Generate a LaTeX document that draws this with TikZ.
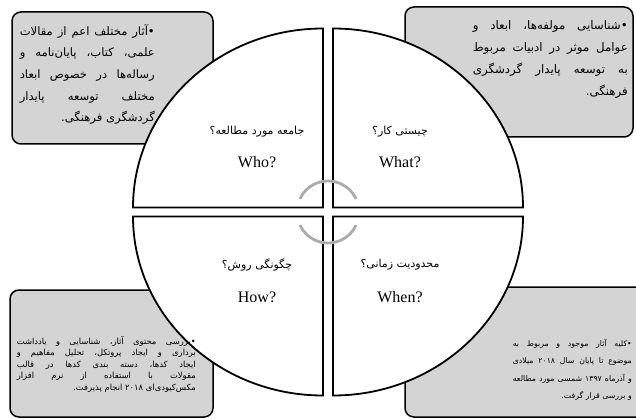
\documentclass[tikz,border=0pt]{standalone}
\usepackage{fontspec}
\setmainfont{Liberation Serif}
\newfontfamily\fa[Script=Arabic]{DejaVu Sans}
\TeXXeTstate=1
\definecolor{boxgray}{RGB}{212,212,212}
\definecolor{ringgray}{RGB}{172,172,172}
\begin{document}
\begin{tikzpicture}[x=1pt,y=-1pt,
  infobox/.style={fill=boxgray,draw=black,line width=1.5pt,rounded corners=9pt},
  quad/.style={fill=white,draw=black,line width=1.8pt},
  ring/.style={draw=ringgray,line width=2.8pt},
  boxtxt/.style={inner sep=0pt,align=right},
  qfa/.style={inner sep=0pt,font=\fa\fontsize{11}{13}\selectfont},
  qen/.style={inner sep=0pt,font=\fontsize{16}{18}\selectfont}]
\useasboundingbox (0,0) rectangle (636,419);
\fill[white] (0,0) rectangle (636,419);
% info boxes
\draw[infobox] (12,12) rectangle (213,144);
\draw[infobox] (405,7) rectangle (633,137);
\draw[infobox] (10,290) rectangle (213,417);
\draw[infobox] (405,287) rectangle (648,417);
% quadrants
\draw[quad] (323,207.5) -- (133,207.5) arc[start angle=180,end angle=270,x radius=190,y radius=179] -- cycle;
\draw[quad] (333,207.5) -- (523,207.5) arc[start angle=0,end angle=-90,x radius=190,y radius=179] -- cycle;
\draw[quad] (323,216.5) -- (133,216.5) arc[start angle=180,end angle=90,x radius=190,y radius=179] -- cycle;
\draw[quad] (333,216.5) -- (523,216.5) arc[start angle=0,end angle=90,x radius=190,y radius=179] -- cycle;
% central rings
\coordinate (c) at (328,212);
\draw[ring] (c) ++(205:31) arc[start angle=205,end angle=335,radius=31];
\draw[ring] (c) ++(25:31) arc[start angle=25,end angle=155,radius=31];
% quadrant labels
\node[qfa] (whofa) at (257,132) {\beginR جامعه مورد مطالعه؟\endR};
\node[qen] (who) at (257,162) {Who?};
\node[qfa] (whatfa) at (400,132) {\beginR چیستی کار؟\endR};
\node[qen] (what) at (400,162) {What?};
\node[qfa] (howfa) at (257,265) {\beginR چگونگی روش؟\endR};
\node[qen] (how) at (257,297) {How?};
\node[qfa] (whenfa) at (400,265) {\beginR محدودیت زمانی؟\endR};
\node[qen] (when) at (400,297) {When?};
% box texts
\node[boxtxt,anchor=north east,font=\fa\fontsize{11.6}{21.7}\selectfont] (tltxt) at (155,24) {%
\makebox[135pt][s]{\beginR •آثار مختلف اعم از مقالات\endR}\\
\makebox[135pt][s]{\beginR علمی، کتاب، پایان‌نامه و\endR}\\
\makebox[135pt][s]{\beginR رساله‌ها در خصوص ابعاد\endR}\\
\makebox[135pt][s]{\beginR مختلف توسعه پایدار\endR}\\
\beginR گردشگری فرهنگی.\endR};
\node[boxtxt,anchor=north east,font=\fa\fontsize{11.8}{22}\selectfont] (trtxt) at (628,20) {%
\makebox[155pt][s]{\beginR •شناسایی مولفه‌ها، ابعاد و\endR}\\
\makebox[155pt][s]{\beginR عوامل موثر در ادبیات مربوط\endR}\\
\makebox[155pt][s]{\beginR به توسعه پایدار گردشگری\endR}\\
\beginR فرهنگی.\endR};
\node[boxtxt,anchor=north east,font=\fa\fontsize{8.4}{11.6}\selectfont] (bltxt) at (196,336) {%
\makebox[179pt][s]{\beginR •بررسی محتوی آثار، شناسایی و یادداشت\endR}\\
\makebox[179pt][s]{\beginR برداری و ایجاد پروتکل، تحلیل مفاهیم و\endR}\\
\makebox[179pt][s]{\beginR ایجاد کدها، دسته بندی کدها در قالب\endR}\\
\makebox[179pt][s]{\beginR مقولات با استفاده از نرم افزار\endR}\\
\beginR مکس‌کیودی‌ای ۲۰۱۸ انجام پذیرفت.\endR};
\node[boxtxt,anchor=north east,font=\fa\fontsize{7.8}{17.3}\selectfont] (brtxt) at (632,339) {%
\makebox[119pt][s]{\beginR •کلیه آثار موجود و مربوط به\endR}\\
\makebox[119pt][s]{\beginR موضوع تا پایان سال ۲۰۱۸ میلادی\endR}\\
\makebox[119pt][s]{\beginR و آذرماه ۱۳۹۷ شمسی مورد مطالعه\endR}\\
\beginR و بررسی قرار گرفت.\endR};
\end{tikzpicture}
\end{document}
